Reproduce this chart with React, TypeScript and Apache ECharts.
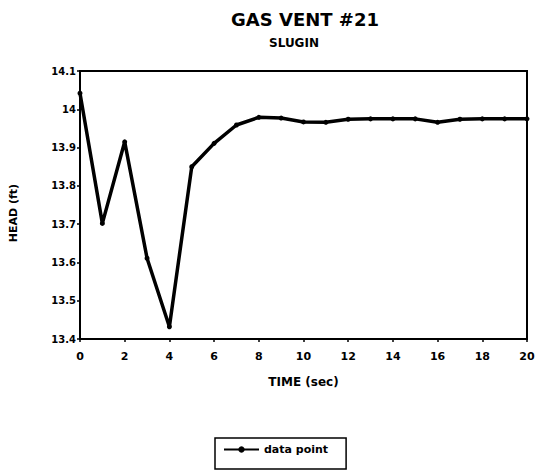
import React, { useEffect, useRef } from "react";
import * as echarts from "echarts";

const timeSec = [0, 1, 2, 3, 4, 5, 6, 7, 8, 9, 10, 11, 12, 13, 14, 15, 16, 17, 18, 19, 20];
const headFt = [
  14.042, 13.702, 13.915, 13.611, 13.432, 13.85, 13.911, 13.959, 13.979, 13.977, 13.967,
  13.966, 13.974, 13.975, 13.975, 13.975, 13.966, 13.974, 13.975, 13.975, 13.975,
];
const titleText = "GAS VENT #21";
const subtitleText = "SLUGIN";
const xAxisTitle = "TIME (sec)";
const yAxisTitle = "HEAD (ft)";
const seriesName = "data point";

export default function App() {
  const ref = useRef<HTMLDivElement>(null);
  useEffect(() => {
    if (!ref.current) return;
    const chart = echarts.init(ref.current, undefined, { renderer: "svg" });
    const font = "DejaVu Sans, Liberation Sans, sans-serif";
    chart.setOption({
      animation: false,
      backgroundColor: "#ffffff",
      graphic: [
        {
          type: "text",
          x: 305,
          y: 19,
          style: {
            text: titleText,
            fontFamily: font,
            fontWeight: "bold",
            fontSize: 18,
            fill: "#000",
            align: "center",
            verticalAlign: "middle",
          },
        },
        {
          type: "text",
          x: 294,
          y: 43,
          style: {
            text: subtitleText,
            fontFamily: font,
            fontWeight: "bold",
            fontSize: 12,
            fill: "#000",
            align: "center",
            verticalAlign: "middle",
          },
        },
        {
          type: "text",
          x: 13,
          y: 213,
          rotation: Math.PI / 2,
          style: {
            text: yAxisTitle,
            fontFamily: font,
            fontWeight: "bold",
            fontSize: 11,
            fill: "#000",
            align: "center",
            verticalAlign: "middle",
          },
        },
      ],
      legend: {
        data: [seriesName],
        left: 215,
        top: 438,
        borderColor: "#000",
        borderWidth: 1.5,
        padding: [6, 18, 14, 8],
        itemWidth: 35,
        itemHeight: 8,
        itemGap: 5,
        textStyle: { fontFamily: font, fontWeight: "bold", fontSize: 11, color: "#000" },
      },
      grid: {
        left: 80,
        right: 17,
        top: 71,
        bottom: 133,
        show: true,
        borderColor: "#000",
        borderWidth: 2,
      },
      xAxis: {
        type: "value",
        min: 0,
        max: 20,
        interval: 2,
        name: xAxisTitle,
        nameLocation: "middle",
        nameGap: 37,
        nameTextStyle: { fontFamily: font, fontWeight: "bold", fontSize: 12, color: "#000" },
        axisLine: { lineStyle: { color: "#000", width: 2 } },
        axisTick: { inside: false, length: 3, lineStyle: { color: "#000", width: 1.5 } },
        axisLabel: { fontFamily: font, fontWeight: "bold", fontSize: 11, color: "#000", margin: 12 },
        splitLine: { show: false },
      },
      yAxis: {
        type: "value",
        min: 13.4,
        max: 14.1,
        interval: 0.1,
        axisLine: { lineStyle: { color: "#000", width: 2 } },
        axisTick: { inside: false, length: 3, lineStyle: { color: "#000", width: 1.5 } },
        axisLabel: {
          fontFamily: font,
          fontWeight: "bold",
          fontSize: 10,
          color: "#000",
          margin: 4,
          formatter: (v: number) => String(+v.toFixed(1)),
        },
        splitLine: { show: false },
      },
      series: [
        {
          name: seriesName,
          type: "line",
          data: timeSec.map((t, i) => [t, headFt[i]]),
          symbol: "circle",
          symbolSize: 5,
          lineStyle: { color: "#000", width: 3.5 },
          itemStyle: { color: "#000" },
        },
      ],
    });
    return () => chart.dispose();
  }, []);
  return (
    <div
      ref={ref}
      style={{ position: "fixed", left: 0, top: 0, width: 544, height: 472 }}
    />
  );
}
